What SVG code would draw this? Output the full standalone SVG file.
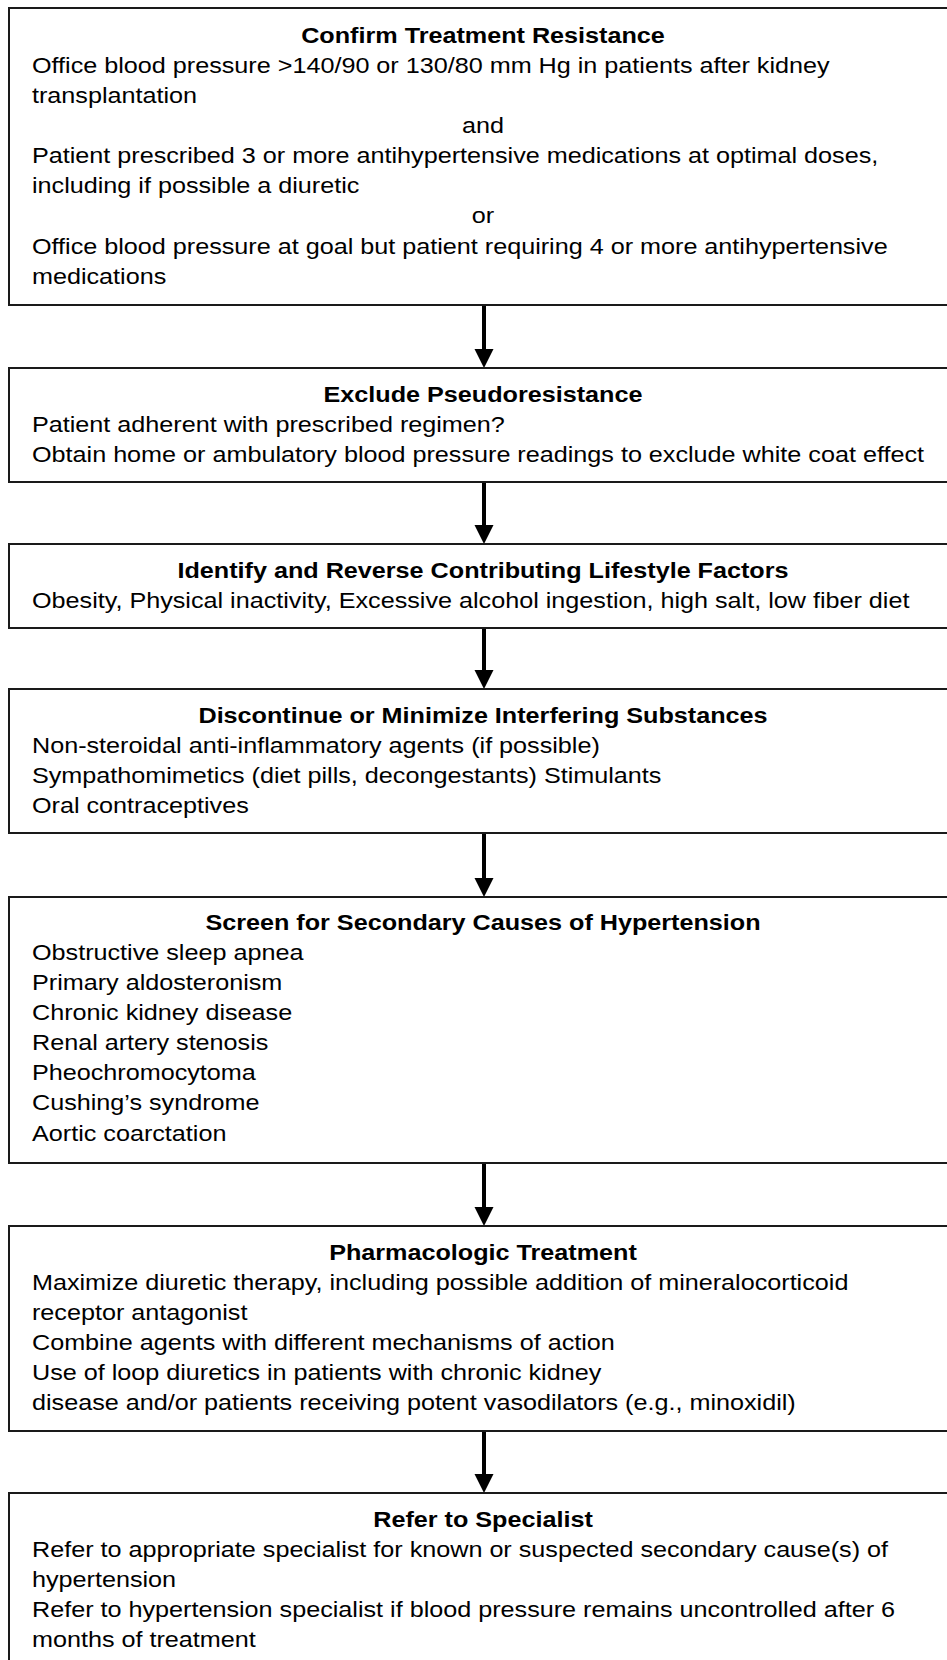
<svg xmlns="http://www.w3.org/2000/svg" width="947" height="1660" viewBox="0 0 947 1660">
  <style>
    .box { fill: #ffffff; stroke: #1a1a1a; stroke-width: 2; }
    .tx { font-family: "Liberation Sans", Arial, sans-serif; font-size: 22px; fill: #000000; }
    .ti { font-weight: bold; text-anchor: middle; }
    .mid { text-anchor: middle; }
    .wire { stroke: #000000; stroke-width: 4; fill: none; }
    .head { fill: #000000; }
  </style>
  <defs>
    <!-- arrowhead pointing down, tip at the origin -->
    <polygon id="tip" class="head" points="-9.5,-19 9.5,-19 0,0"/>
  </defs>
  <rect x="0" y="0" width="947" height="1660" fill="#ffffff"/>

  <!-- connectors -->
  <g id="connectors">
    <line class="wire" x1="484" y1="306" x2="484" y2="352"/>
    <use href="#tip" x="484" y="368"/>
    <line class="wire" x1="484" y1="483" x2="484" y2="528"/>
    <use href="#tip" x="484" y="544"/>
    <line class="wire" x1="484" y1="629" x2="484" y2="673"/>
    <use href="#tip" x="484" y="689"/>
    <line class="wire" x1="484" y1="834" x2="484" y2="881"/>
    <use href="#tip" x="484" y="897"/>
    <line class="wire" x1="484" y1="1164" x2="484" y2="1210"/>
    <use href="#tip" x="484" y="1226"/>
    <line class="wire" x1="484" y1="1432" x2="484" y2="1477"/>
    <use href="#tip" x="484" y="1493"/>
  </g>

  <!-- text groups are widened horizontally; x=32 stays fixed, centre 483 maps from 425.9 -->
  <g id="confirm">
    <rect class="box" x="9" y="8" width="960" height="297"/>
    <g class="tx" transform="translate(-4.64,0) scale(1.145,1)">
      <text class="ti" x="425.9" y="43">Confirm Treatment Resistance</text>
      <text x="32" y="73">Office blood pressure &gt;140/90 or 130/80 mm Hg in patients after kidney</text>
      <text x="32" y="103">transplantation</text>
      <text class="mid" x="425.9" y="133">and</text>
      <text x="32" y="163">Patient prescribed 3 or more antihypertensive medications at optimal doses,</text>
      <text x="32" y="193">including if possible a diuretic</text>
      <text class="mid" x="425.9" y="223">or</text>
      <text x="32" y="254">Office blood pressure at goal but patient requiring 4 or more antihypertensive</text>
      <text x="32" y="284">medications</text>
    </g>
  </g>

  <g id="pseudoresistance">
    <rect class="box" x="9" y="368" width="960" height="114"/>
    <g class="tx" transform="translate(-4.64,0) scale(1.145,1)">
      <text class="ti" x="425.9" y="402">Exclude Pseudoresistance</text>
      <text x="32" y="432">Patient adherent with prescribed regimen?</text>
      <text x="32" y="462">Obtain home or ambulatory blood pressure readings to exclude white coat effect</text>
    </g>
  </g>

  <g id="lifestyle">
    <rect class="box" x="9" y="544" width="960" height="84"/>
    <g class="tx" transform="translate(-4.64,0) scale(1.145,1)">
      <text class="ti" x="425.9" y="578">Identify and Reverse Contributing Lifestyle Factors</text>
      <text x="32" y="608">Obesity, Physical inactivity, Excessive alcohol ingestion, high salt, low fiber diet</text>
    </g>
  </g>

  <g id="substances">
    <rect class="box" x="9" y="689" width="960" height="144"/>
    <g class="tx" transform="translate(-4.64,0) scale(1.145,1)">
      <text class="ti" x="425.9" y="723">Discontinue or Minimize Interfering Substances</text>
      <text x="32" y="753">Non-steroidal anti-inflammatory agents (if possible)</text>
      <text x="32" y="783">Sympathomimetics (diet pills, decongestants) Stimulants</text>
      <text x="32" y="813">Oral contraceptives</text>
    </g>
  </g>

  <g id="secondary">
    <rect class="box" x="9" y="897" width="960" height="266"/>
    <g class="tx" transform="translate(-4.64,0) scale(1.145,1)">
      <text class="ti" x="425.9" y="930">Screen for Secondary Causes of Hypertension</text>
      <text x="32" y="960">Obstructive sleep apnea</text>
      <text x="32" y="990">Primary aldosteronism</text>
      <text x="32" y="1020">Chronic kidney disease</text>
      <text x="32" y="1050">Renal artery stenosis</text>
      <text x="32" y="1080">Pheochromocytoma</text>
      <text x="32" y="1110">Cushing’s syndrome</text>
      <text x="32" y="1141">Aortic coarctation</text>
    </g>
  </g>

  <g id="pharmacologic">
    <rect class="box" x="9" y="1226" width="960" height="205"/>
    <g class="tx" transform="translate(-4.64,0) scale(1.145,1)">
      <text class="ti" x="425.9" y="1260">Pharmacologic Treatment</text>
      <text x="32" y="1290">Maximize diuretic therapy, including possible addition of mineralocorticoid</text>
      <text x="32" y="1320">receptor antagonist</text>
      <text x="32" y="1350">Combine agents with different mechanisms of action</text>
      <text x="32" y="1380">Use of loop diuretics in patients with chronic kidney</text>
      <text x="32" y="1410">disease and/or patients receiving potent vasodilators (e.g., minoxidil)</text>
    </g>
  </g>

  <g id="specialist">
    <rect class="box" x="9" y="1493" width="960" height="200"/>
    <g class="tx" transform="translate(-4.64,0) scale(1.145,1)">
      <text class="ti" x="425.9" y="1527">Refer to Specialist</text>
      <text x="32" y="1557">Refer to appropriate specialist for known or suspected secondary cause(s) of</text>
      <text x="32" y="1587">hypertension</text>
      <text x="32" y="1617">Refer to hypertension specialist if blood pressure remains uncontrolled after 6</text>
      <text x="32" y="1647">months of treatment</text>
    </g>
  </g>
</svg>
